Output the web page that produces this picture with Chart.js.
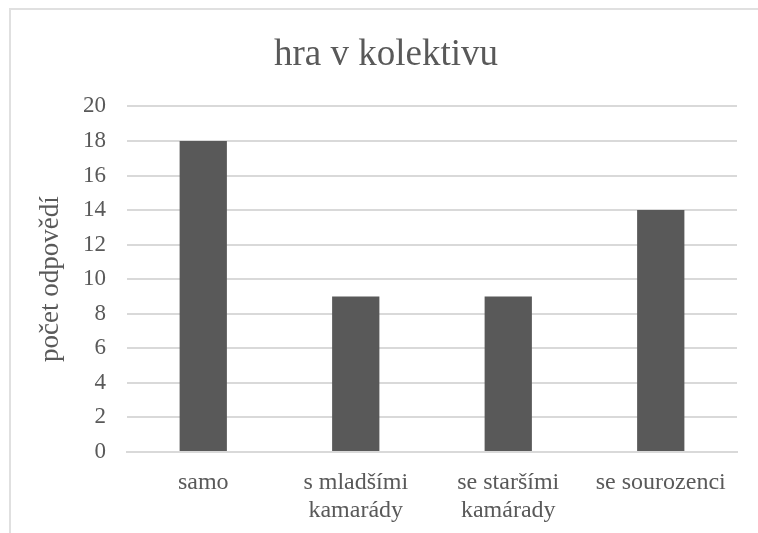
<!DOCTYPE html>
<html>
<head>
<meta charset="utf-8">
<script src="https://cdn.jsdelivr.net/npm/chart.js@4"></script>
<style>
    html, body { margin: 0; padding: 0; background: #fff; }
    #wrap { position: relative; width: 758px; height: 533px; overflow: hidden; }
    #frame { position: absolute; left: 9px; top: 8px; width: 800px; height: 600px; border: 2px solid #e0e0e0; box-sizing: border-box; }
    #chart { position: absolute; left: 0; top: 0; }
</style>
</head>
<body>
<div id="wrap">
    <div id="frame"></div>
    <canvas id="chart" width="758" height="533"></canvas>
</div>
<script>
const categories = ["samo", ["s mladšími", "kamarády"], ["se staršími", "kamárady"], "se sourozenci"];
const answers = [18, 9, 9, 14];
const yTicks = [0, 2, 4, 6, 8, 10, 12, 14, 16, 18, 20];

const font = "'Liberation Serif', 'Times New Roman', serif";
const textColor = "#595959";

new Chart(document.getElementById("chart"), {
    type: "bar",
    data: {
        labels: categories,
        datasets: [{
            label: "počet odpovědí",
            data: answers,
            backgroundColor: "#595959",
            barPercentage: 0.62,
            categoryPercentage: 0.5
        }]
    },
    options: {
        responsive: false,
        animation: false,
        layout: { padding: { left: 35, right: 21, top: 33, bottom: 9 } },
        plugins: {
            legend: { display: false },
            tooltip: { enabled: false },
            title: {
                display: true,
                text: "hra v kolektivu",
                color: textColor,
                font: { family: font, size: 37, weight: "normal" },
                padding: { top: 0, bottom: 29 }
            }
        },
        scales: {
            x: {
                afterFit: axis => { axis.height = 72; },
                grid: { display: false, drawTicks: false },
                border: { color: "#d9d9d9", width: 2 },
                ticks: {
                    color: textColor,
                    font: { family: font, size: 24 },
                    padding: 16,
                    maxRotation: 0
                }
            },
            y: {
                min: 0,
                max: 20,
                afterBuildTicks: axis => { axis.ticks = yTicks.map(v => ({ value: v })); },
                afterFit: axis => { axis.width = 92; },
                grid: { color: "#d9d9d9", lineWidth: 2, drawTicks: false },
                border: { display: false },
                ticks: {
                    color: textColor,
                    font: { family: font, size: 23 },
                    padding: 21
                },
                title: {
                    display: true,
                    text: "počet odpovědí",
                    color: textColor,
                    font: { family: font, size: 27 },
                    padding: { top: 0, bottom: 16 }
                }
            }
        }
    }
});
</script>
</body>
</html>
